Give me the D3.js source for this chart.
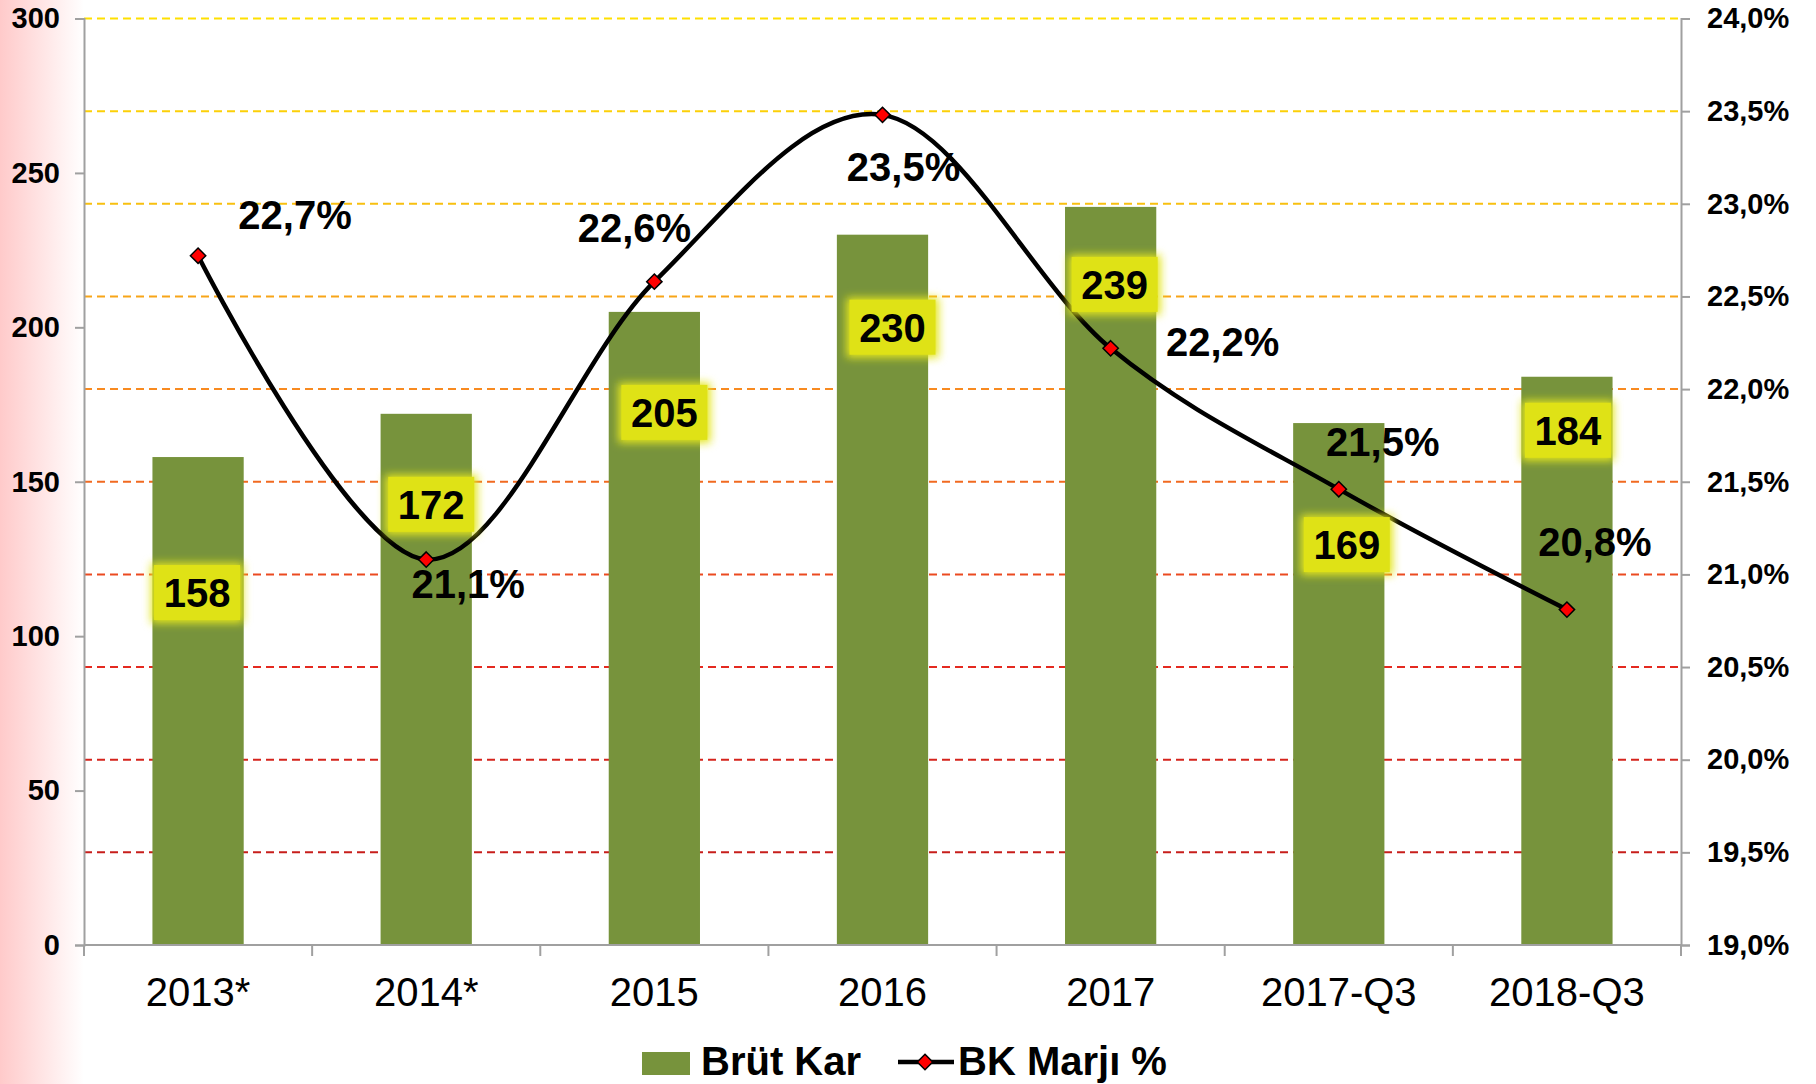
<!DOCTYPE html>
<html>
<head>
<meta charset="utf-8">
<script src="https://cdn.jsdelivr.net/npm/d3@7"></script>
<style>
  body { margin: 0; background: #fff; }
  svg text { font-family: "Liberation Sans", Arial, sans-serif; }
</style>
</head>
<body>
<div id="chart"></div>
<script>
// Data
var categories = ["2013*", "2014*", "2015", "2016", "2017", "2017-Q3", "2018-Q3"];
var brutKar = [158, 172, 205, 230, 239, 169, 184];
var bkMarji = [22.72, 21.08, 22.58, 23.48, 22.22, 21.46, 20.81];
var marjiLabels = ["22,7%", "21,1%", "22,6%", "23,5%", "22,2%", "21,5%", "20,8%"];
var leftTicks = [0, 50, 100, 150, 200, 250, 300];
var rightTicks = [19, 19.5, 20, 20.5, 21, 21.5, 22, 22.5, 23, 23.5, 24];

// Label placement (pixel offsets, hand tuned like the original)
var barLabelOffset = [[-1, 136], [5, 91], [10, 101], [10, 93], [4, 78], [8, 122], [1, 54]];
var pctLabelOffset = [[97, -41], [42, 24], [-20, -54], [21, 52], [112, -6], [44, -47], [28, -68]];

var W = 1816, H = 1084;
var margin = {top: 18.5, right: 135, bottom: 139, left: 84};
var width = W - margin.left - margin.right,
    height = H - margin.top - margin.bottom;

var svg = d3.select("#chart").append("svg")
    .attr("width", W)
    .attr("height", H);

var defs = svg.append("defs");

// Pink fade on the left edge
var grad = defs.append("linearGradient").attr("id", "pinkFade")
    .attr("x1", "0").attr("x2", "1").attr("y1", "0").attr("y2", "0");
grad.append("stop").attr("offset", "0%").attr("stop-color", "#ffcaca");
grad.append("stop").attr("offset", "100%").attr("stop-color", "#ffffff");
svg.append("rect").attr("width", W).attr("height", H).attr("fill", "#fff");
svg.append("rect").attr("width", 84).attr("height", H).attr("fill", "url(#pinkFade)");

// Glow for the value boxes
var glow = defs.append("filter").attr("id", "glow")
    .attr("x", "-30%").attr("y", "-30%").attr("width", "160%").attr("height", "160%");
glow.append("feGaussianBlur").attr("stdDeviation", 4);

var g = svg.append("g")
    .attr("transform", "translate(" + margin.left + "," + margin.top + ")");

var x = d3.scaleBand()
    .domain(categories)
    .range([0, width])
    .paddingInner(0.6)
    .paddingOuter(0.3);

var xBand = d3.scaleBand().domain(categories).range([0, width]);

var yLeft = d3.scaleLinear().domain([0, 300]).range([height, 0]);
var yRight = d3.scaleLinear().domain([19, 24]).range([height, 0]);

// Dashed gridlines, yellow at the top going to red at the bottom
var gridColor = d3.scaleLinear()
    .domain([19, 20.5, 22, 23, 24])
    .range(["#b81818", "#e42a20", "#f88a20", "#f8c010", "#ffe000"]);

g.selectAll(".grid")
    .data(rightTicks)
    .enter().append("line")
    .attr("class", "grid")
    .attr("x1", 0)
    .attr("x2", width)
    .attr("y1", function(d) { return yRight(d); })
    .attr("y2", function(d) { return yRight(d); })
    .attr("stroke", function(d) { return gridColor(d); })
    .attr("stroke-width", 2)
    .attr("stroke-dasharray", "8,5");

// Bars
g.selectAll(".bar")
    .data(brutKar)
    .enter().append("rect")
    .attr("class", "bar")
    .attr("x", function(d, i) { return x(categories[i]); })
    .attr("width", x.bandwidth())
    .attr("y", function(d) { return yLeft(d); })
    .attr("height", function(d) { return height - yLeft(d); })
    .attr("fill", "#77933c");

// Axes
var axisColor = "#a0a0a0";

var leftAxis = g.append("g")
    .call(d3.axisLeft(yLeft).tickValues(leftTicks).tickSize(9).tickPadding(15));
var rightAxis = g.append("g")
    .attr("transform", "translate(" + width + ",0)")
    .call(d3.axisRight(yRight).tickValues(rightTicks).tickSize(9).tickPadding(17)
        .tickFormat(function(d) { return d3.format(".1f")(d).replace(".", ",") + "%"; }));
var bottomAxis = g.append("g")
    .attr("transform", "translate(0," + height + ")");

[leftAxis, rightAxis].forEach(function(a) {
    a.select(".domain").attr("stroke", axisColor).attr("stroke-width", 2);
    a.selectAll(".tick line").attr("stroke", axisColor).attr("stroke-width", 2);
    a.selectAll(".tick text")
        .attr("fill", "#000")
        .attr("font-size", 29)
        .attr("font-weight", "bold")
        .attr("font-family", "'Liberation Sans', Arial, sans-serif");
});

bottomAxis.append("line")
    .attr("x1", 0).attr("x2", width)
    .attr("stroke", axisColor).attr("stroke-width", 2);
bottomAxis.selectAll(".xtick")
    .data(d3.range(categories.length + 1))
    .enter().append("line")
    .attr("x1", function(i) { return i * xBand.step(); })
    .attr("x2", function(i) { return i * xBand.step(); })
    .attr("y1", 0).attr("y2", 11)
    .attr("stroke", axisColor).attr("stroke-width", 2);
bottomAxis.selectAll(".xlabel")
    .data(categories)
    .enter().append("text")
    .attr("x", function(d) { return xBand(d) + xBand.bandwidth() / 2; })
    .attr("y", 61)
    .attr("text-anchor", "middle")
    .attr("font-size", 40)
    .attr("fill", "#000")
    .text(function(d) { return d; });

// Smoothed margin line
var cx = function(i) { return xBand(categories[i]) + xBand.bandwidth() / 2; };
var line = d3.line()
    .x(function(d, i) { return cx(i); })
    .y(function(d) { return yRight(d); })
    .curve(d3.curveCardinal.tension(0));

g.append("path")
    .datum(bkMarji)
    .attr("d", line)
    .attr("fill", "none")
    .attr("stroke", "#000")
    .attr("stroke-width", 4.5);

var diamond = d3.symbol().type(d3.symbolDiamond2).size(150);
g.selectAll(".marker")
    .data(bkMarji)
    .enter().append("path")
    .attr("class", "marker")
    .attr("d", diamond)
    .attr("transform", function(d, i) { return "translate(" + cx(i) + "," + yRight(d) + ")"; })
    .attr("fill", "#ff0000")
    .attr("stroke", "#000")
    .attr("stroke-width", 1.5);

// Bar value labels with yellow boxes
var barLabels = g.selectAll(".barlabel")
    .data(brutKar)
    .enter().append("g")
    .attr("class", "barlabel")
    .attr("transform", function(d, i) {
        return "translate(" + (cx(i) + barLabelOffset[i][0]) + "," + (yLeft(d) + barLabelOffset[i][1]) + ")";
    });
barLabels.append("rect")
    .attr("x", -46).attr("y", -30).attr("width", 92).attr("height", 60)
    .attr("fill", "#e4e61c")
    .attr("filter", "url(#glow)");
barLabels.append("rect")
    .attr("x", -43).attr("y", -28).attr("width", 86).attr("height", 55)
    .attr("fill", "#dfe216");
barLabels.append("text")
    .attr("text-anchor", "middle")
    .attr("y", 14)
    .attr("font-size", 40)
    .attr("font-weight", "bold")
    .attr("fill", "#000")
    .text(function(d) { return d; });

// Margin labels
g.selectAll(".pctlabel")
    .data(bkMarji)
    .enter().append("text")
    .attr("class", "pctlabel")
    .attr("x", function(d, i) { return cx(i) + pctLabelOffset[i][0]; })
    .attr("y", function(d, i) { return yRight(d) + pctLabelOffset[i][1] + 14; })
    .attr("text-anchor", "middle")
    .attr("font-size", 40)
    .attr("font-weight", "bold")
    .attr("fill", "#000")
    .text(function(d, i) { return marjiLabels[i]; });

// Legend
var legend = svg.append("g").attr("transform", "translate(0,1075)");
legend.append("rect")
    .attr("x", 642).attr("y", -23).attr("width", 48).attr("height", 23)
    .attr("fill", "#77933c");
legend.append("text")
    .attr("x", 701).attr("y", 0)
    .attr("font-size", 40).attr("font-weight", "bold")
    .text("Brüt Kar");
legend.append("line")
    .attr("x1", 898).attr("x2", 954).attr("y1", -13).attr("y2", -13)
    .attr("stroke", "#000").attr("stroke-width", 4.5);
legend.append("path")
    .attr("d", diamond)
    .attr("transform", "translate(925,-13)")
    .attr("fill", "#ff0000").attr("stroke", "#000").attr("stroke-width", 1.5);
legend.append("text")
    .attr("x", 958).attr("y", 0)
    .attr("font-size", 40).attr("font-weight", "bold")
    .text("BK Marjı %");
</script>
</body>
</html>
